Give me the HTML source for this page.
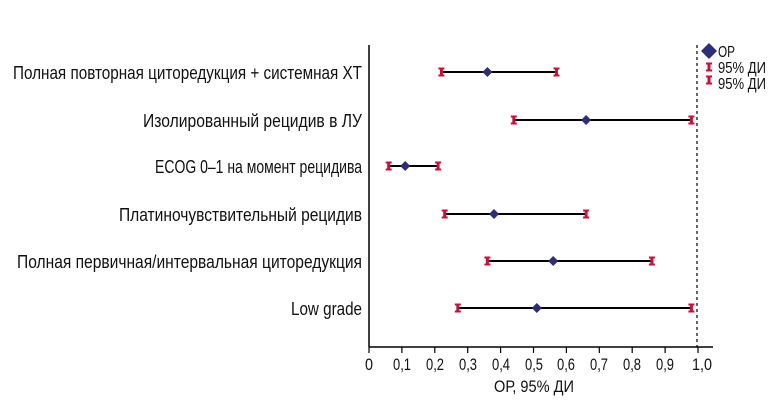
<!DOCTYPE html>
<html><head><meta charset="utf-8"><style>body{margin:0;background:#fff}svg{display:block}text{font-family:"Liberation Sans",sans-serif;fill:#111}</style></head>
<body>
<svg width="780" height="402" viewBox="0 0 780 402">
<line x1="369" y1="45" x2="369" y2="347" stroke="#000" stroke-width="1.5"/>
<line x1="369" y1="347" x2="713" y2="347" stroke="#000" stroke-width="1.5"/>
<line x1="697" y1="45" x2="697" y2="347" stroke="#000" stroke-width="1.2" stroke-dasharray="3,3"/>
<g stroke="#000" stroke-width="1.2">
<line x1="369" y1="347" x2="369" y2="353"/><line x1="401.9" y1="347" x2="401.9" y2="353"/><line x1="434.8" y1="347" x2="434.8" y2="353"/><line x1="467.7" y1="347" x2="467.7" y2="353"/><line x1="500.6" y1="347" x2="500.6" y2="353"/><line x1="533.5" y1="347" x2="533.5" y2="353"/><line x1="566.4" y1="347" x2="566.4" y2="353"/><line x1="599.3" y1="347" x2="599.3" y2="353"/><line x1="632.2" y1="347" x2="632.2" y2="353"/><line x1="665.1" y1="347" x2="665.1" y2="353"/><line x1="698" y1="347" x2="698" y2="353"/>
</g>
<g font-size="17" text-anchor="middle">
<text x="369" y="370" textLength="8" lengthAdjust="spacingAndGlyphs">0</text>
<text x="402" y="370" textLength="18" lengthAdjust="spacingAndGlyphs">0,1</text>
<text x="435" y="370" textLength="18" lengthAdjust="spacingAndGlyphs">0,2</text>
<text x="468" y="370" textLength="18" lengthAdjust="spacingAndGlyphs">0,3</text>
<text x="501" y="370" textLength="18" lengthAdjust="spacingAndGlyphs">0,4</text>
<text x="534" y="370" textLength="18" lengthAdjust="spacingAndGlyphs">0,5</text>
<text x="566" y="370" textLength="18" lengthAdjust="spacingAndGlyphs">0,6</text>
<text x="599" y="370" textLength="18" lengthAdjust="spacingAndGlyphs">0,7</text>
<text x="632" y="370" textLength="18" lengthAdjust="spacingAndGlyphs">0,8</text>
<text x="665" y="370" textLength="18" lengthAdjust="spacingAndGlyphs">0,9</text>
<text x="702" y="370" textLength="20" lengthAdjust="spacingAndGlyphs">1,0</text>
<text x="534" y="392" textLength="80" lengthAdjust="spacingAndGlyphs">ОР, 95% ДИ</text>
</g>
<g font-size="18" text-anchor="end">
<text x="362" y="79" textLength="349" lengthAdjust="spacingAndGlyphs">Полная повторная циторедукция + системная ХТ</text>
<text x="362" y="127" textLength="219" lengthAdjust="spacingAndGlyphs">Изолированный рецидив в ЛУ</text>
<text x="362" y="173" textLength="207" lengthAdjust="spacingAndGlyphs">ECOG 0–1 на момент рецидива</text>
<text x="362" y="221" textLength="243" lengthAdjust="spacingAndGlyphs">Платиночувствительный рецидив</text>
<text x="362" y="268" textLength="345" lengthAdjust="spacingAndGlyphs">Полная первичная/интервальная циторедукция</text>
<text x="362" y="315" textLength="71" lengthAdjust="spacingAndGlyphs">Low grade</text>
</g>
<defs>
<g id="cap"><rect x="-1.5" y="-4" width="3" height="8" fill="#c8103e"/><rect x="-3" y="-4.5" width="6" height="2" fill="#c8103e"/><rect x="-3" y="2.5" width="6" height="2" fill="#c8103e"/></g>
<polygon id="dia" points="0,-5 5,0 0,5 -5,0" fill="#2e2e78"/>
</defs>
<g stroke="#000" stroke-width="2">
<line x1="441.4" y1="72" x2="556.5" y2="72"/>
<line x1="513.8" y1="120" x2="691.4" y2="120"/>
<line x1="388.7" y1="166" x2="438.1" y2="166"/>
<line x1="444.7" y1="214" x2="586.1" y2="214"/>
<line x1="487.4" y1="261" x2="651.9" y2="261"/>
<line x1="457.8" y1="308" x2="691.4" y2="308"/>
</g>
<use href="#cap" x="441.4" y="72"/><use href="#cap" x="556.5" y="72"/><use href="#dia" x="487.4" y="72"/>
<use href="#cap" x="513.8" y="120"/><use href="#cap" x="691.4" y="120"/><use href="#dia" x="586.1" y="120"/>
<use href="#cap" x="388.7" y="166"/><use href="#cap" x="438.1" y="166"/><use href="#dia" x="405.2" y="166"/>
<use href="#cap" x="444.7" y="214"/><use href="#cap" x="586.1" y="214"/><use href="#dia" x="494" y="214"/>
<use href="#cap" x="487.4" y="261"/><use href="#cap" x="651.9" y="261"/><use href="#dia" x="553.2" y="261"/>
<use href="#cap" x="457.8" y="308"/><use href="#cap" x="691.4" y="308"/><use href="#dia" x="536.8" y="308"/>
<polygon points="709,43 717,51 709,59 701,51" fill="#2e2e78"/>
<use href="#cap" x="709" y="67"/><use href="#cap" x="709" y="80"/>
<g font-size="16"><text x="718" y="57" textLength="17" lengthAdjust="spacingAndGlyphs">ОР</text>
<text x="718" y="73" textLength="48" lengthAdjust="spacingAndGlyphs">95% ДИ</text>
<text x="718" y="89" textLength="48" lengthAdjust="spacingAndGlyphs">95% ДИ</text></g>
</svg>
</body></html>
